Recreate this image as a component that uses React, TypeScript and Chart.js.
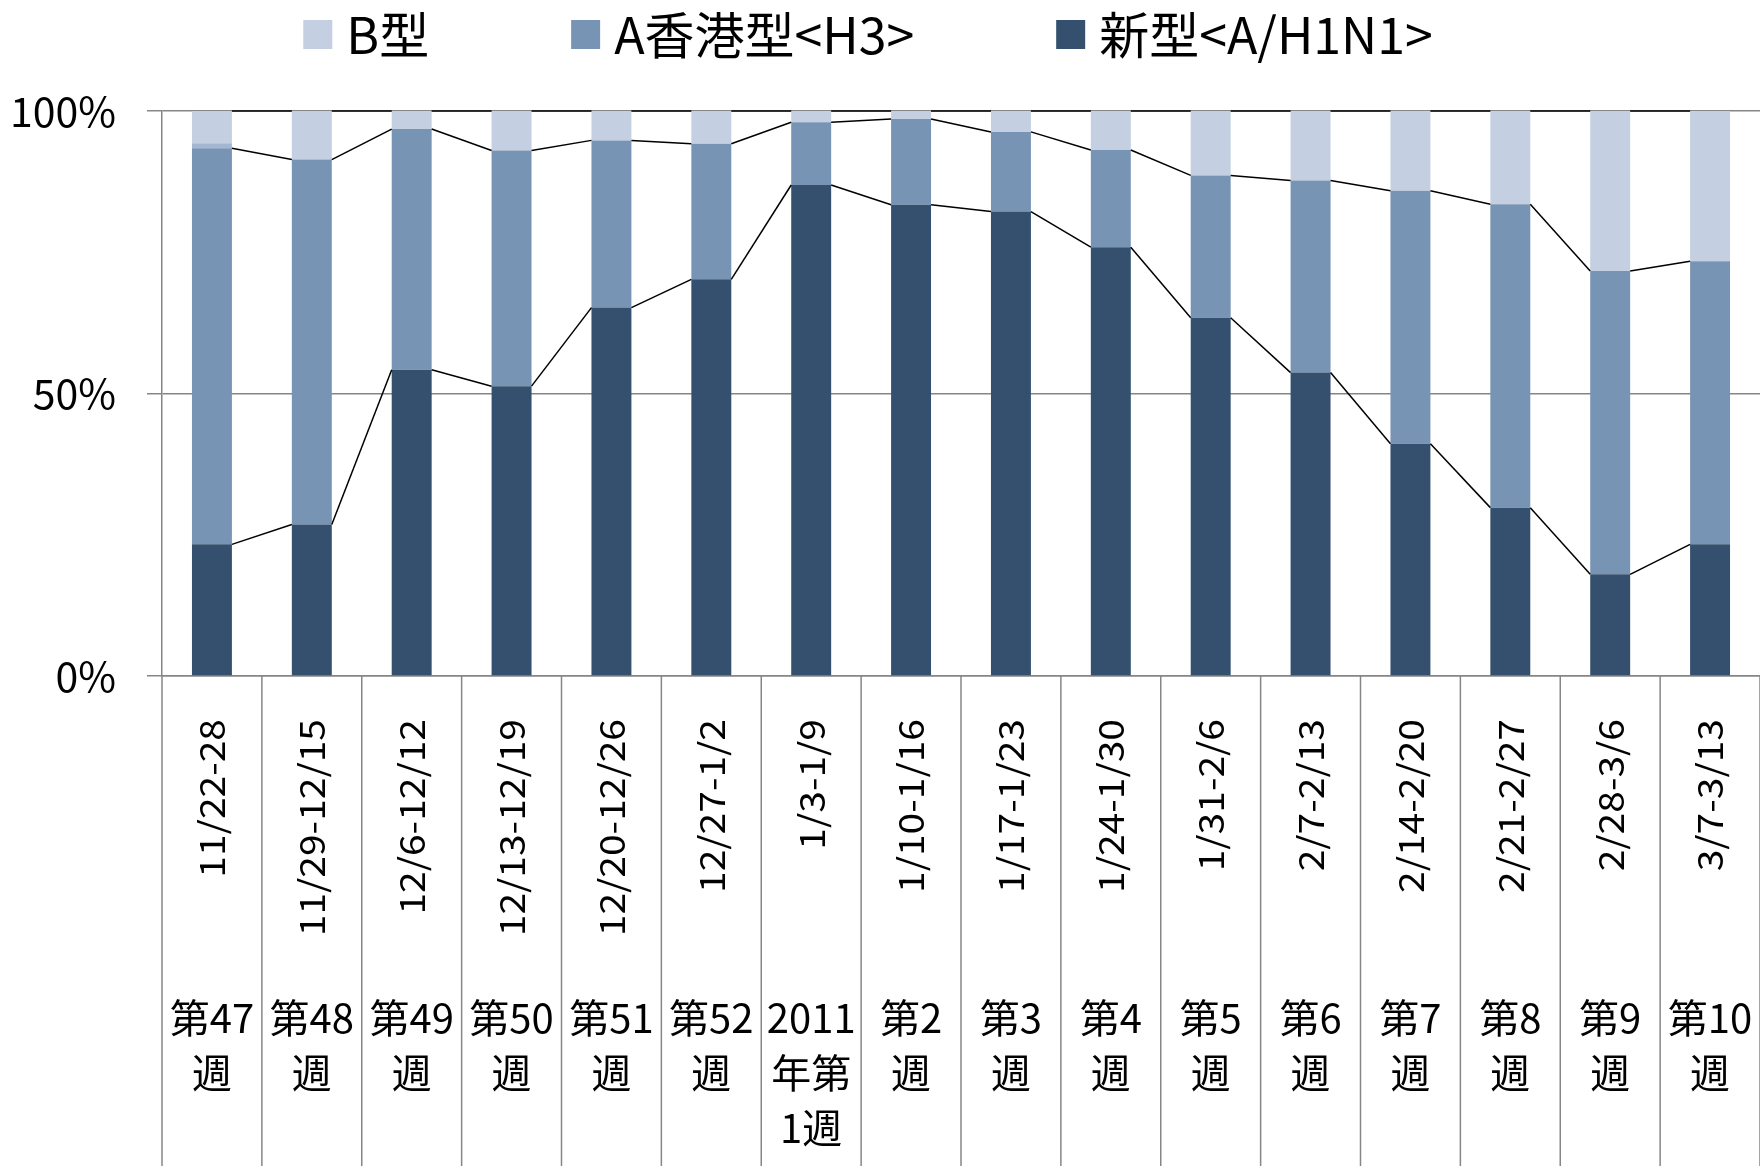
import React, { useEffect, useRef } from "react";
import { Chart, registerables } from "chart.js";

Chart.register(...registerables);

const dateLabels = [
  "11/22-28", "11/29-12/15", "12/6-12/12", "12/13-12/19", "12/20-12/26", "12/27-1/2",
  "1/3-1/9", "1/10-1/16", "1/17-1/23", "1/24-1/30", "1/31-2/6", "2/7-2/13",
  "2/14-2/20", "2/21-2/27", "2/28-3/6", "3/7-3/13",
];

const weekLabels = [
  ["第47", "週"], ["第48", "週"], ["第49", "週"], ["第50", "週"], ["第51", "週"], ["第52", "週"],
  ["2011", "年第", "1週"], ["第2", "週"], ["第3", "週"], ["第4", "週"], ["第5", "週"], ["第6", "週"],
  ["第7", "週"], ["第8", "週"], ["第9", "週"], ["第10", "週"],
];

// percentages
const newH1N1 = [23.3, 26.8, 54.2, 51.3, 65.2, 70.2, 86.9, 83.4, 82.2, 75.9, 63.4, 53.7, 41.1, 29.8, 18.0, 23.3];
const hongKongH3 = [70.1, 64.6, 42.6, 41.7, 29.6, 24.0, 11.1, 15.2, 14.1, 17.2, 25.2, 34.0, 44.8, 53.7, 53.7, 50.1];
const otherA = [0.9, 0, 0, 0, 0, 0, 0, 0, 0, 0, 0, 0, 0, 0, 0, 0];
const typeB = [5.7, 8.6, 3.2, 7.0, 5.2, 5.8, 2.0, 1.4, 3.7, 6.9, 11.4, 12.3, 14.1, 16.5, 28.3, 26.6];

const yTicks = [0, 50, 100];

const seriesNames = ["新型<A/H1N1>", "A香港型<H3>", "Aその他", "B型"];
const seriesColors = ["#34506E", "#7894B4", "#A3B7D3", "#C4D0E1"];

const FONT = "'Noto Sans CJK JP', 'Noto Sans', sans-serif";
const GRAY = "#868686";

const seriesLinePlugin = {
  id: "seriesLines",
  afterDatasetsDraw(chart: any) {
    const ctx = chart.ctx;
    ctx.save();
    ctx.strokeStyle = "#000";
    ctx.lineWidth = 1.5;
    [0, 1, 3].forEach((di) => {
      const meta = chart.getDatasetMeta(di);
      for (let i = 0; i < meta.data.length - 1; i++) {
        const a = meta.data[i];
        const b = meta.data[i + 1];
        ctx.beginPath();
        ctx.moveTo(a.x + a.width / 2, a.y);
        ctx.lineTo(b.x - b.width / 2, b.y);
        ctx.stroke();
      }
    });
    ctx.restore();
  },
};

const labelsPlugin = {
  id: "customLabels",
  afterDraw(chart: any) {
    const ctx = chart.ctx;
    const x = chart.scales.x;
    const area = chart.chartArea;
    const n = dateLabels.length;
    const half = (x.getPixelForValue(1) - x.getPixelForValue(0)) / 2;
    ctx.save();
    // separators
    ctx.strokeStyle = GRAY;
    ctx.lineWidth = 1.5;
    for (let i = 0; i <= n; i++) {
      const px = i < n ? x.getPixelForValue(i) - half : x.getPixelForValue(n - 1) + half;
      ctx.beginPath();
      ctx.moveTo(px, area.bottom);
      ctx.lineTo(px, chart.height);
      ctx.stroke();
    }
    ctx.fillStyle = "#000";
    // rotated date labels
    for (let i = 0; i < n; i++) {
      const cx = x.getPixelForValue(i);
      ctx.save();
      ctx.translate(cx, 719);
      ctx.rotate(-Math.PI / 2);
      ctx.scale(1, 0.9);
      ctx.font = `39px ${FONT}`;
      ctx.textAlign = "right";
      ctx.textBaseline = "middle";
      ctx.fillText(dateLabels[i], 0, 0);
      ctx.restore();
    }
    // week labels
    ctx.font = `40px ${FONT}`;
    ctx.textAlign = "center";
    ctx.textBaseline = "middle";
    for (let i = 0; i < n; i++) {
      const cx = x.getPixelForValue(i);
      weekLabels[i].forEach((line, k) => {
        ctx.fillText(line, cx, 1018 + k * 55);
      });
    }
    // legend
    const order = [3, 1, 0];
    ctx.font = `50px ${FONT}`;
    ctx.textAlign = "left";
    ctx.textBaseline = "middle";
    const box = 29;
    const gapText = 14;
    const gapItem = 142;
    const widths = order.map((d) => ctx.measureText(seriesNames[d]).width);
    const total = widths.reduce((s, w) => s + box + gapText + w, 0) + gapItem * (order.length - 1);
    let lx = 868 - total / 2;
    order.forEach((d, k) => {
      ctx.fillStyle = seriesColors[d];
      ctx.fillRect(lx, 20, box, box);
      ctx.fillStyle = "#000";
      ctx.fillText(seriesNames[d], lx + box + gapText, 35);
      lx += box + gapText + widths[k] + gapItem;
    });
    ctx.restore();
  },
};

export default function App() {
  const ref = useRef<HTMLCanvasElement | null>(null);
  useEffect(() => {
    document.body.style.margin = "0";
    const canvas = ref.current!;
    const chart = new Chart(canvas, {
      type: "bar",
      data: {
        labels: dateLabels,
        datasets: [newH1N1, hongKongH3, otherA, typeB].map((d, i) => ({
          label: seriesNames[i],
          data: d,
          backgroundColor: seriesColors[i],
          borderWidth: 0,
          barPercentage: 0.4,
          categoryPercentage: 1,
        })),
      },
      options: {
        animation: false,
        responsive: false,
        devicePixelRatio: 1,
        layout: { padding: { top: 111, right: 0, bottom: 0, left: 0 } },
        plugins: { legend: { display: false }, tooltip: { enabled: false } },
        scales: {
          x: {
            stacked: true,
            grid: { display: false },
            border: { display: true, color: GRAY, width: 1.5 },
            ticks: { display: false },
            afterFit: (s: any) => {
              s.height = 490;
            },
          },
          y: {
            stacked: true,
            min: 0,
            max: 100,
            afterBuildTicks: (s: any) => {
              s.ticks = yTicks.map((v) => ({ value: v }));
            },
            ticks: {
              callback: (v: any) => v + "%",
              font: { family: FONT, size: 41 },
              color: "#000",
              padding: 31,
            },
            grid: { color: GRAY, lineWidth: 1.5, tickLength: 15 },
            border: { display: true, color: GRAY, width: 1.5 },
            afterFit: (s: any) => {
              s.width = 162;
            },
          },
        },
      },
      plugins: [seriesLinePlugin, labelsPlugin],
    });
    return () => chart.destroy();
  }, []);
  return (
    <div style={{ width: 1760, height: 1166 }}>
      <canvas ref={ref} width={1760} height={1166} />
    </div>
  );
}
